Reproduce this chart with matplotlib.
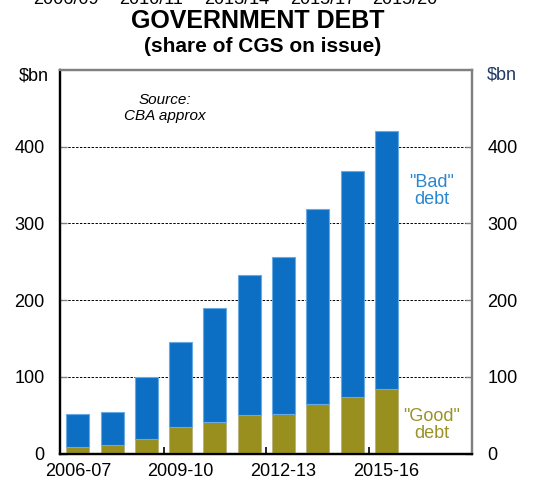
import matplotlib
matplotlib.use("Agg")
import matplotlib.pyplot as plt
import numpy as np

plt.rcParams['font.family'] = ['Liberation Sans', 'DejaVu Sans']

years = ["2006-07", "2007-08", "2008-09", "2009-10", "2010-11", "2011-12",
         "2012-13", "2013-14", "2014-15", "2015-16"]
total_debt = [52, 54, 100, 146, 190, 233, 256, 319, 368, 420]
good_debt = [9, 11, 19, 35, 41, 50, 52, 65, 74, 84]
bad_debt = [t - g for t, g in zip(total_debt, good_debt)]
yticks = [0, 100, 200, 300, 400]
xlabel_years = ["2006-07", "2009-10", "2012-13", "2015-16"]
top_cut_labels = ["2006/09", "2010/11", "2013/14", "2015/17", "2015/20"]

blue = "#0D6FC4"
olive = "#998F1E"

W, H = 533, 484
fig = plt.figure(figsize=(W/100, H/100), dpi=100)
ax = fig.add_axes([60/W, 1-453.5/H, 412/W, 383.5/H])

x = np.arange(len(years))
ax.bar(x, good_debt, width=0.67, color=olive, edgecolor="#B8B27A", linewidth=0.6, zorder=3)
ax.bar(x, bad_debt, bottom=good_debt, width=0.67, color=blue, edgecolor="#6AAAE2",
       linewidth=0.8, zorder=3)

ax.set_xlim(-0.52, 11.5)
ax.set_ylim(0, 500)
ax.set_yticks(yticks)
ax.set_yticklabels([str(v) for v in yticks])
for y in yticks[1:]:
    ax.axhline(y, color="black", linestyle=(0, (2.5, 1.5)), linewidth=0.7, zorder=1)

# x ticks: marks between groups, labels at bar centres
ax.set_xticks([2.5, 5.5, 8.5])
ax.set_xticklabels([])
ax.tick_params(axis='x', direction='in', length=5, width=1.2, color="black")
for lab in xlabel_years:
    i = years.index(lab)
    ax.text(i, -23, lab, ha='center', va='center', fontsize=13, clip_on=False)

ax.tick_params(axis='y', direction='in', length=5, width=1, color="gray",
               labelsize=13, pad=11)
ax2 = ax.twinx()
ax2.set_ylim(0, 500)
ax2.set_yticks(yticks)
ax2.set_yticklabels([str(v) for v in yticks])
ax2.tick_params(axis='y', direction='in', length=5, width=1, color="gray", labelsize=13, pad=11)

for a in (ax, ax2):
    a.spines['left'].set_color("black")
    a.spines['left'].set_linewidth(1.6)
    a.spines['bottom'].set_color("black")
    a.spines['bottom'].set_linewidth(1.6)
    a.spines['right'].set_color("#808080")
    a.spines['right'].set_linewidth(1.6)
    a.spines['top'].set_color("#808080")
    a.spines['top'].set_linewidth(1.6)

fig.text(34/W, 1-76/H, "$bn", ha='center', va='center', fontsize=13)
fig.text(502/W, 1-75/H, "$bn", ha='center', va='center', fontsize=13, color="#203864")

fig.text(258/W, 1-21/H, "GOVERNMENT DEBT", ha='center', va='center', fontsize=18, fontweight='bold')
fig.text(263/W, 1-47/H, "(share of CGS on issue)", ha='center', va='center', fontsize=15, fontweight='bold')

# partially cut-off text at the very top of the image
for xx, t in zip([66, 151, 237, 323, 405], top_cut_labels):
    fig.text(xx/W, 1.0, t, ha='center', va='center', fontsize=13)

fig.text(165/W, 1-108/H, "Source:\nCBA approx", ha='center', va='center', fontsize=11,
         style='italic', linespacing=1.1)
fig.text(432/W, 1-191/H, "\"Bad\"\ndebt", ha='center', va='center', fontsize=13,
         color="#2A86D0", linespacing=1.0)
fig.text(432/W, 1-425/H, "\"Good\"\ndebt", ha='center', va='center', fontsize=13,
         color="#9A9226", linespacing=1.0)

fig.savefig("out.png", dpi=100)
